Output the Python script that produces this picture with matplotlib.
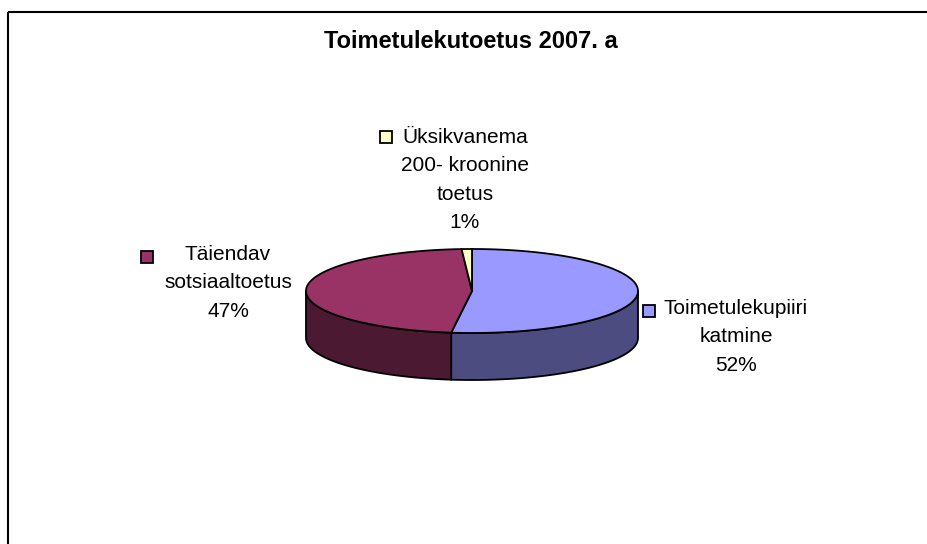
import numpy as np
import matplotlib.pyplot as plt
from matplotlib.patches import Polygon, Rectangle

plt.rcParams['font.family'] = ['Liberation Sans', 'DejaVu Sans']

# data
title = 'Toimetulekutoetus 2007. a'
labels = ['Toimetulekupiiri\nkatmine', 'Täiendav\nsotsiaaltoetus',
          'Üksikvanema\n200- kroonine\ntoetus']
values = [52, 47, 1]
top_colors = ['#9999FF', '#993366', '#FFFFCC']
side_colors = ['#4C4C80', '#4C1933', '#80806A']

# layout in pixels
W, H = 928, 544
cx, cy, rx, ry, depth = 472, 291, 166, 42, 47
label_pos = [(736, 337), (228, 283), (465, 180)]
key_pos = [(649, 311), (147, 257), (386, 137)]

fig = plt.figure(figsize=(W / 100, H / 100), dpi=100)
ax = fig.add_axes([0, 0, 1, 1])
ax.set_xlim(0, W)
ax.set_ylim(H, 0)
ax.axis('off')


def arc(a, b, dy=0, n=120):
    t = np.radians(np.linspace(a, b, n))
    return np.column_stack([cx + rx * np.cos(t), cy - ry * np.sin(t) + dy])


fracs = np.array(values) / sum(values)
ends = 90 - 360 * np.cumsum(fracs)
starts = np.concatenate([[90], ends[:-1]])

# side walls (front half only)
for i in range(len(values)):
    for k in (-360, 0):
        a = max(ends[i], 180 + k)
        b = min(starts[i], 360 + k)
        if b > a:
            pts = np.vstack([arc(a, b), arc(b, a, depth)])
            ax.add_patch(Polygon(pts, closed=True, fc=side_colors[i], ec='black', lw=1.3, zorder=2))

# top faces
for i in range(len(values)):
    pts = np.vstack([[cx, cy], arc(ends[i], starts[i])])
    ax.add_patch(Polygon(pts, closed=True, fc=top_colors[i], ec='black', lw=1.3, zorder=3))

# labels with legend keys
for i in range(len(values)):
    x, y = label_pos[i]
    ax.text(x, y, labels[i] + '\n' + f'{values[i]:.0f}%', ha='center', va='center',
            multialignment='center', fontsize=15, linespacing=1.63, zorder=4)
    kx, ky = key_pos[i]
    ax.plot(kx, ky, marker='s', markersize=8.5, mfc=top_colors[i], mec='black', mew=1.3, zorder=4)

ax.text(471, 42, title, ha='center', va='center', fontsize=17, fontweight='bold')

ax.add_patch(Rectangle((7.7, 12.2), 960, 600, fill=False, ec='black', lw=1.5, zorder=5))

fig.savefig('out.png', dpi=100)
